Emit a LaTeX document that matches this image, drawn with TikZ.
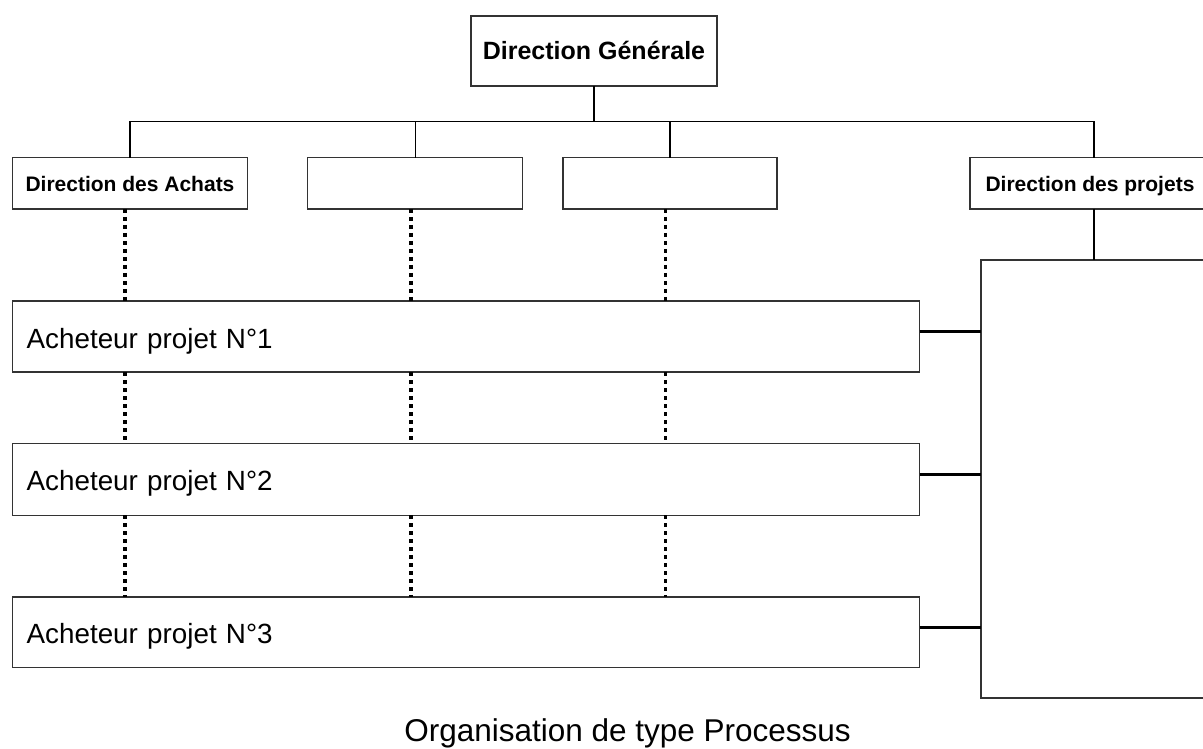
\documentclass[tikz,border=0pt]{standalone}
\usepackage{fontspec}
\setmainfont{Liberation Sans}
\usetikzlibrary{calc}
\begin{document}
\begin{tikzpicture}[x=1pt,y=-1pt,
  box/.style={draw=black!80,line width=1.2pt,fill=white,inner sep=0pt,outer sep=0pt},
  headbox/.style={box,font=\bfseries},
  buyerbox/.style={box,minimum height=71pt,text width=879pt,inner xsep=14pt,align=left,
     font=\fontsize{27.8}{30}\selectfont,text height=23pt,text depth=0pt},
  conn/.style={black,line width=1.3pt},
  thick conn/.style={black,line width=2.4pt},
  dotline/.style={black,line width=3.6pt,dash pattern=on 3.6pt off 4.4pt}
]
\useasboundingbox (0,0) rectangle (1203,749);
\clip (0,0) rectangle (1203,749);
\fill[white] (0,0) rectangle (1203,749);

% top
\node[headbox,minimum width=246pt,minimum height=70pt,font=\bfseries\fontsize{25}{28}\selectfont,
      text height=18pt,text depth=0pt] (dg) at (594,51) {Direction Générale};

% second row
\node[headbox,minimum width=234.3pt,minimum height=51.3pt,font=\bfseries\fontsize{21}{24}\selectfont,
      text height=16.6pt,text depth=0pt] (achats) at (130,183.3) {Direction des Achats};
\node[box,minimum width=215pt,minimum height=51.3pt] (b2) at (415.2,183.3) {};
\node[box,minimum width=214pt,minimum height=51.3pt] (b3) at (670,183.3) {};
\node[headbox,minimum width=240pt,minimum height=51.3pt,font=\bfseries\fontsize{21}{24}\selectfont,
      text height=16.6pt,text depth=0pt] (projets) at (1090,183.3) {Direction des projets};

% big right box
\node[box,minimum width=240pt,minimum height=438pt,anchor=north west] (big) at (981,260) {};

% buyers
\node[buyerbox,anchor=north west] (a1) at (12.7,301) {Acheteur projet N°1};
\node[buyerbox,anchor=north west,minimum height=71.8pt] (a2) at (12.7,443.5) {Acheteur projet N°2};
\node[buyerbox,anchor=north west,minimum height=70.7pt] (a3) at (12.7,597) {Acheteur projet N°3};

% hierarchy connectors
\draw[conn] (dg.south) -- ++(0,35.5) coordinate (bus);
\draw[conn] (achats.north) |- (bus) -| ([xshift=4pt]projets.north);
\draw[conn] (b2.north) -- (b2.north |- bus);
\draw[conn] (b3.north) -- (b3.north |- bus);
\draw[line width=2pt] ([xshift=3.5pt]projets.south) -- ([xshift=3.5pt]projets.south |- big.north);

% dotted links
\foreach \src/\dx in {achats/-5.3, b2/-4.5, b3/-4.7}{
  \draw[dotline] ([xshift=\dx pt]\src.south) -- ([xshift=\dx pt]\src.south |- a1.north);
  \draw[dotline] ([xshift=\dx pt]\src.south |- a1.south) -- ([xshift=\dx pt]\src.south |- a2.north);
  \draw[dotline] ([xshift=\dx pt]\src.south |- a2.south) -- ([xshift=\dx pt]\src.south |- a3.north);
}

% links to project box
\foreach \a in {a1,a2,a3}{
  \draw[thick conn] ([yshift=5pt]\a.east) -- ([yshift=5pt]\a.east -| big.west);
}

% caption
\node[anchor=base,font=\fontsize{31.5}{34}\selectfont,inner sep=0pt] (cap) at (627.5,741) {Organisation de type Processus};
\end{tikzpicture}
\end{document}
